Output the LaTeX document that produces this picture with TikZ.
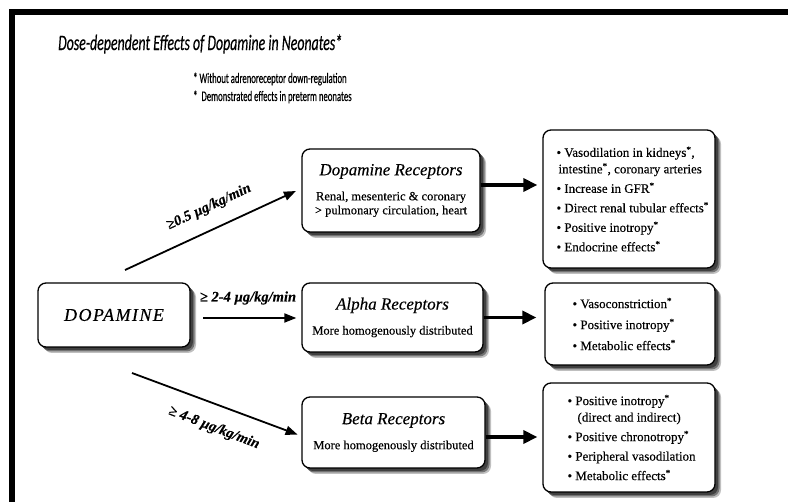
\documentclass[tikz,border=0pt]{standalone}
\usepackage{fontspec}
\setmainfont{Liberation Serif}[FakeBold=0.3]
\newfontfamily\sanscond[FakeStretch=0.63,FakeBold=0.4]{Carlito}
\newfontfamily\legendfont[FakeStretch=0.6,FakeBold=0.4]{Carlito}
\usetikzlibrary{arrows.meta,shadows}
\newcommand\mk{\textsuperscript{*}}
\tikzset{
  box/.style={draw=black, line width=1.3pt, rounded corners=8pt, fill=white, inner sep=0pt,
    drop shadow={shadow xshift=6pt, shadow yshift=-6pt, fill=black!25, opacity=1},
    drop shadow={shadow xshift=4.5pt, shadow yshift=-4.5pt, fill=black!55, opacity=1},
    drop shadow={shadow xshift=3pt, shadow yshift=-3pt, fill=black!75, opacity=1}},
  rectext/.style={align=center, font=\fontsize{12.5}{14}\selectfont},
  efftext/.style={align=left, anchor=west, inner sep=0pt, font=\fontsize{13}{19.5}\selectfont},
  doselabel/.style={font=\fontsize{14.5}{16}\selectfont\bfseries\itshape, inner sep=0pt},
  arr/.style={line width=1.8pt, -{Triangle[length=12pt,width=9pt]}},
  harr/.style={line width=3.5pt, -{Triangle[length=14pt,width=13pt]}},
}
\begin{document}
\begin{tikzpicture}[x=1pt,y=-1pt]
\useasboundingbox (0,0) rectangle (788,502);
% frame
\fill[black] (9,9) rectangle (788,15);
\fill[black] (9,9) rectangle (15,502);
% title and legend
\node[anchor=west, inner sep=0pt, font=\sanscond\itshape\fontsize{22}{24}\selectfont] (title) at (58,44) {Dose-dependent Effects of Dopamine in Neonates*};
\node[anchor=west, inner sep=0pt, font=\legendfont\fontsize{14.5}{18}\selectfont, align=left] (legend) at (193,88)
  {* Without adrenoreceptor down-regulation\\*\ \ Demonstrated effects in preterm neonates};
% source
\node[box, minimum width=152pt, minimum height=64pt] (dop) at (114,315)
  {\fontsize{18}{20}\selectfont\addfontfeatures{LetterSpace=8}\itshape DOPAMINE};
% receptor boxes
\node[box, rectext, minimum width=178pt, minimum height=83pt] (drec) at (391,190.5)
  {{\fontsize{17}{20}\selectfont\itshape Dopamine Receptors}\\[11pt]Renal, mesenteric \& coronary\\> pulmonary circulation, heart};
\node[box, rectext, minimum width=181pt, minimum height=69pt] (arec) at (392.5,317.5)
  {{\fontsize{17}{20}\selectfont\itshape Alpha Receptors}\\[11pt]More homogenously distributed};
\node[box, rectext, minimum width=183pt, minimum height=71pt] (brec) at (393.5,432.5)
  {{\fontsize{17}{20}\selectfont\itshape Beta Receptors}\\[11pt]More homogenously distributed};
% effect boxes
\node[box, minimum width=172pt, minimum height=138pt] (eff1) at (629,199) {};
\node[box, minimum width=170pt, minimum height=82pt] (eff2) at (630,324) {};
\node[box, minimum width=172pt, minimum height=109pt] (eff3) at (629,437.5) {};
\node[efftext] (eff1t) at ([xshift=14pt]eff1.west)
  {• Vasodilation in kidneys\mk,\\[-3pt]\hspace*{2pt}intestine\mk, coronary arteries\\• Increase in GFR\mk\\• Direct renal tubular effects\mk\\• Positive inotropy\mk\\• Endocrine effects\mk};
\node[efftext, font=\fontsize{13}{21}\selectfont] (eff2t) at ([xshift=28pt]eff2.west)
  {• Vasoconstriction\mk\\• Positive inotropy\mk\\• Metabolic effects\mk};
\node[efftext] (eff3t) at ([xshift=25pt]eff3.west)
  {• Positive inotropy\mk\\[-3pt]\hspace*{10pt}(direct and indirect)\\• Positive chronotropy\mk\\• Peripheral vasodilation\\• Metabolic effects\mk};
% dose arrows
\coordinate (a1s) at (125,270);
\coordinate (a2s) at (203,318);
\coordinate (a3s) at (132,373);
\draw[arr, shorten >=6pt] (a1s) -- ([yshift=2pt]drec.west);
\draw[arr, shorten >=5pt] (a2s) -- (a2s -| arec.west);
\draw[arr, shorten >=4pt] (a3s) -- ([yshift=-3.5pt]brec.west);
\node[doselabel, rotate=25] (l1) at (209,207) {≥0.5 µg/kg/min};
\node[doselabel] (l2) at (248,298) {≥ 2-4 µg/kg/min};
\node[doselabel, rotate=-21] (l3) at (214,428) {≥ 4-8 µg/kg/min};
% effect arrows
\draw[harr, shorten >=5pt] ([yshift=5.5pt]drec.east) -- ([yshift=5.5pt]drec.east -| eff1.west);
\draw[harr, shorten >=8pt] (arec.east) -- (arec.east -| eff2.west);
\draw[harr, shorten >=5pt] ([yshift=-4.5pt]brec.east) -- ([yshift=-4.5pt]brec.east -| eff3.west);
\end{tikzpicture}
\end{document}
